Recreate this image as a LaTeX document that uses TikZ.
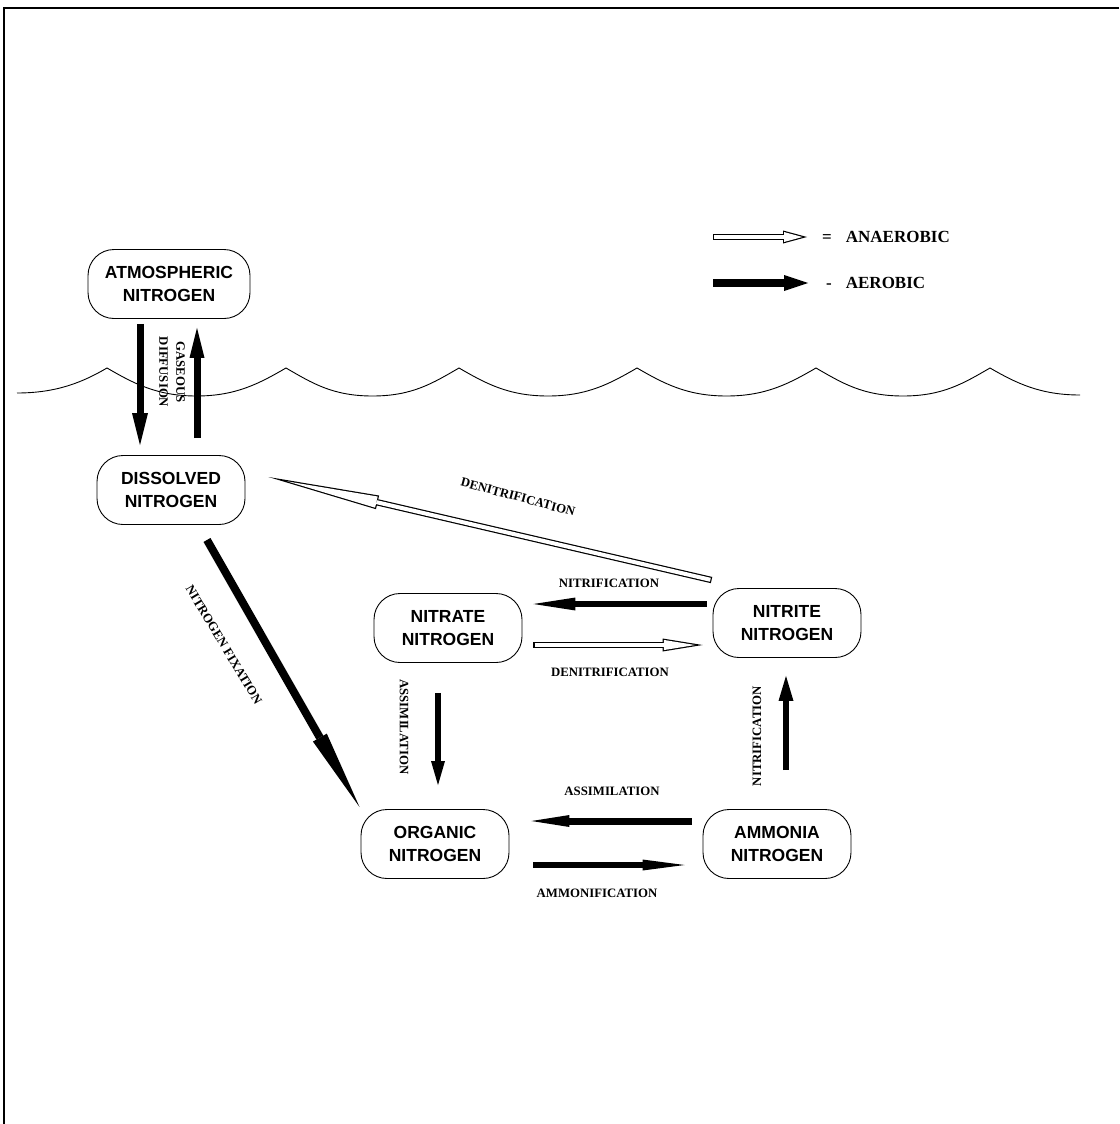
\documentclass[tikz,border=0pt]{standalone}
\usepackage{fontspec}
\setmainfont{Liberation Serif}
\newfontfamily\boxfont{Liberation Sans}
\usetikzlibrary{arrows.meta,calc}
\tikzstyle{pool} = [draw, line width=0.9pt, rounded corners=26pt, minimum width=148pt,
  minimum height=69pt, align=center, font=\boxfont\bfseries\fontsize{17.5}{23}\selectfont]
\tikzstyle{lbl} = [inner sep=0pt, align=center, font=\bfseries\fontsize{12.8}{17}\selectfont]
\tikzstyle{key} = [inner sep=0pt, anchor=west, font=\bfseries\fontsize{17}{20}\selectfont]
\tikzset{aer/.style n args={3}{line width=#1, -{Triangle[length=#2,width=#3,line width=0pt]}}}
\newcommand\hollowarrow[4]{%
  \pgfmathsetmacro\hhw{#4/2}
  \pgfmathsetmacro\tipsh{1.2*sqrt(#3*#3+\hhw*\hhw)/\hhw}
  \pgfmathsetmacro\inlen{#3-\tipsh-1.2}
  \pgfmathsetmacro\inwid{2*\hhw*\inlen/#3}
  \draw[line width=6.4pt, -{Triangle[length=#3pt,width=#4pt,line width=0pt]}] #1 -- #2;
  \draw[white, line width=4pt, shorten <=1.2pt, shorten >=\tipsh pt,
    -{Triangle[length=\inlen pt,width=\inwid pt,line width=0pt]}] #1 -- #2;}

\begin{document}
\begin{tikzpicture}[x=1pt, y=-1pt]
  \useasboundingbox (0,0) rectangle (1119,1124);
  \draw[line width=2pt] (1119,8) -- (4,8) -- (4,1124);
  \draw[line width=0.9pt] (17,393) .. controls (57,393) and (83,382) .. (107,368)
    foreach \a/\b in {107/286, 286/459, 459/637, 637/816, 816/990} {
      .. controls (\a+26,383) and ({(\a+\b)/2-40},396) .. ({(\a+\b)/2},396)
      .. controls ({(\a+\b)/2+40},396) and (\b-26,383) .. (\b,368) }
    .. controls (1016,383) and (1040,395) .. (1080,395);

  \node[pool, minimum width=162pt] (atm) at (169,284) {ATMOSPHERIC\\NITROGEN};
  \node[pool] (dis) at (171,490) {DISSOLVED\\NITROGEN};
  \node[pool] (nitrate) at (448,628) {NITRATE\\NITROGEN};
  \node[pool] (nitrite) at (787,623) {NITRITE\\NITROGEN};
  \node[pool] (org) at (435,844) {ORGANIC\\NITROGEN};
  \node[pool] (amm) at (777,844) {AMMONIA\\NITROGEN};

  \draw[aer={7pt}{32pt}{16pt}] ($(atm.south)+(-29,5)$) -- ($(dis.north)+(-31,-10)$);
  \draw[aer={7pt}{30pt}{15pt}] ($(dis.north)+(26,-17)$) -- ($(atm.south)+(28,9)$);
  \draw[aer={8pt}{80pt}{16pt}] ($(dis.south)+(36,15)$) -- ($(org.north west)+(-1,-2)$);
  \hollowarrow{($(nitrite.north west)+(-1,-8)$)}{($(dis.east)+(23,-13)$)}{112}{14}
  \draw[aer={6.5pt}{42pt}{13pt}] ($(nitrite.west)+(-6,-19)$) -- ($(nitrate.east)+(11,-24)$);
  \hollowarrow{($(nitrate.east)+(11,17)$)}{($(nitrite.west)+(-10,22)$)}{40}{13}
  \draw[aer={5.5pt}{24pt}{14pt}] ($(nitrate.south)+(-10,30)$) -- ($(org.north)+(3,-24)$);
  \draw[aer={6pt}{25pt}{15pt}] ($(amm.north)+(9,-39)$) -- ($(nitrite.south)+(-1,18)$);
  \draw[aer={7pt}{38pt}{12pt}] ($(amm.west)+(-11,-23)$) -- ($(org.east)+(22,-23)$);
  \draw[aer={6pt}{42pt}{11pt}] ($(org.east)+(24,21)$) -- ($(amm.west)+(-18,21)$);

  \node[lbl, rotate=-90] (gasdif) at (172,372) {GASEOUS\\DIFFUSION};
  \node[lbl, rotate=-59] (fixlbl) at (224,645) {NITROGEN FIXATION};
  \node[lbl, rotate=-15] (denlbla) at (518,497) {DENITRIFICATION};
  \node[lbl] (nitlbla) at (609,583) {NITRIFICATION};
  \node[lbl] (denlblb) at (610,672) {DENITRIFICATION};
  \node[lbl, rotate=-90] (asslbla) at (404,727) {ASSIMILATION};
  \node[lbl, rotate=90] (nitlblb) at (757,736) {NITRIFICATION};
  \node[lbl] (asslblb) at (612,791) {ASSIMILATION};
  \node[lbl] (ammlbl) at (597,893) {AMMONIFICATION};

  \coordinate (anaa) at (713,237);
  \coordinate (anab) at (807,237);
  \coordinate (aera) at (713,283);
  \coordinate (aerb) at (808,283);
  \hollowarrow{(anaa)}{(anab)}{24}{13}
  \draw[aer={8pt}{24pt}{16pt}] (aera) -- (aerb);
  \node[key] (anakey) at (822,237) {=\hspace{14pt}ANAEROBIC};
  \node[key] (aerkey) at (826,283) {-\hspace{14pt}AEROBIC};
\end{tikzpicture}
\end{document}
